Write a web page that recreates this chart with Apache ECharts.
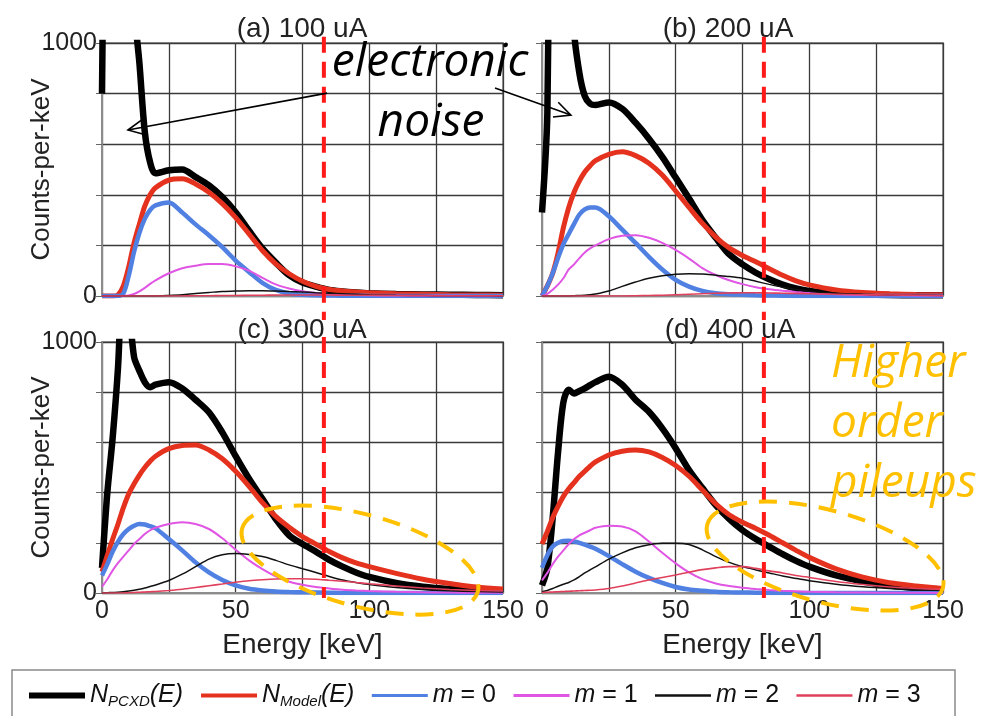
<!DOCTYPE html>
<html>
<head>
<meta charset="utf-8">
<title>PCXD pileup spectra</title>
<script src="https://cdn.jsdelivr.net/npm/echarts@6/dist/echarts.min.js"></script>
<style>
  html, body { margin: 0; padding: 0; background: #fff; }
  #main { width: 981px; height: 716px; }
</style>
</head>
<body>
<div id="main"></div>
<script>
// energy samples (keV) shared by every curve
var energy = [0, 2, 4, 6, 8, 10, 12, 14, 16, 18, 20, 25, 30, 35, 40, 45, 50, 55, 60, 65, 70, 75, 80, 85, 90, 95, 100, 110, 120, 130, 140, 150];

// (a) 100 uA
var pcxdA  = [800, 2600, 3000, 3000, 2600, 1800, 1150, 920, 650, 528, 485, 497, 500, 470, 437, 391, 331, 258, 188, 132, 82, 53, 37, 24, 18, 14, 11, 8, 6, 5, 4, 3];
var modelA = [0, 0, 0, 5, 40, 115, 210, 285, 355, 400, 428, 458, 463, 443, 410, 365, 310, 245, 180, 127, 88, 58, 38, 26, 20, 16, 13, 9, 7, 5, 4, 3];
var m0A    = [0, 0, 0, 0, 10, 80, 175, 250, 305, 340, 358, 370, 330, 283, 240, 193, 140, 95, 52, 24, 10, 5, 3, 2, 1, 1, 0, 0, 0, 0, 0, 0];
var m1A    = [0, 0, 0, 0, 0, 2, 8, 18, 32, 48, 62, 90, 110, 120, 126, 126, 117, 100, 72, 46, 30, 19, 12, 8, 6, 4, 3, 2, 1, 1, 0, 0];
var m2A    = [0, 0, 0, 0, 0, 0, 0, 0, 0, 0, 0, 2, 5, 10, 14, 18, 20, 21, 21, 20, 18, 16, 13, 11, 9, 7, 5, 3, 2, 1, 1, 0];
var m3A    = [0, 0, 0, 0, 0, 0, 0, 0, 0, 0, 0, 0, 0, 1, 1, 2, 2, 3, 3, 4, 4, 4, 4, 4, 3, 3, 3, 2, 2, 1, 1, 1];

// (b) 200 uA
var pcxdB  = [330, 720, 2500, 3000, 3000, 2000, 1050, 880, 790, 760, 755, 765, 740, 685, 622, 550, 468, 385, 300, 230, 165, 125, 92, 66, 45, 30, 20, 10, 6, 4, 3, 3];
var modelB = [0, 40, 90, 170, 270, 350, 410, 455, 490, 515, 535, 560, 570, 555, 525, 478, 415, 350, 287, 233, 190, 160, 135, 108, 82, 60, 44, 24, 14, 9, 6, 5];
var m0B    = [0, 40, 90, 150, 205, 245, 285, 322, 342, 350, 350, 315, 262, 210, 155, 105, 64, 37, 20, 11, 7, 5, 3, 2, 1, 0, 0, 0, 0, 0, 0, 0];
var m1B    = [0, 8, 25, 45, 70, 105, 125, 150, 172, 188, 200, 225, 238, 240, 230, 210, 182, 148, 110, 83, 62, 47, 35, 27, 21, 16, 12, 7, 4, 3, 2, 1];
var m2B    = [0, 0, 0, 0, 0, 0, 1, 2, 3, 5, 8, 20, 38, 55, 70, 80, 86, 88, 87, 82, 77, 70, 58, 46, 35, 26, 19, 11, 7, 4, 3, 2];
var m3B    = [0, 0, 0, 0, 0, 0, 0, 0, 0, 0, 0, 0, 0, 1, 2, 3, 5, 7, 9, 11, 12, 13, 13, 12, 11, 10, 9, 7, 5, 4, 3, 2];

// (c) 300 uA
var pcxdC  = [100, 400, 620, 900, 1300, 1150, 940, 885, 840, 820, 830, 840, 815, 770, 720, 640, 545, 455, 375, 295, 230, 195, 165, 132, 105, 82, 64, 40, 25, 16, 11, 8];
var modelC = [85, 150, 215, 275, 340, 395, 435, 470, 500, 525, 545, 575, 588, 590, 570, 535, 485, 425, 360, 305, 262, 225, 195, 165, 140, 120, 105, 78, 55, 38, 24, 16];
var m0C    = [70, 115, 165, 205, 235, 255, 268, 275, 273, 266, 258, 215, 170, 122, 82, 52, 30, 17, 10, 6, 4, 3, 2, 1, 0, 0, 0, 0, 0, 0, 0, 0];
var m1C    = [25, 55, 90, 120, 145, 170, 195, 215, 235, 250, 260, 275, 282, 275, 255, 218, 172, 130, 95, 66, 45, 33, 24, 18, 13, 10, 8, 5, 3, 2, 1, 1];
var m2C    = [0, 1, 2, 3, 5, 8, 11, 15, 20, 26, 32, 50, 75, 105, 135, 152, 157, 153, 145, 130, 112, 97, 82, 66, 52, 42, 34, 22, 14, 9, 6, 4];
var m3C    = [0, 0, 0, 0, 0, 1, 2, 3, 4, 5, 6, 10, 15, 22, 29, 36, 43, 49, 53, 56, 57, 57, 55, 51, 47, 42, 37, 28, 20, 14, 10, 8];

// (d) 400 uA
var pcxdD  = [30, 100, 300, 560, 760, 810, 795, 805, 815, 828, 840, 862, 830, 770, 722, 656, 577, 490, 418, 350, 295, 250, 215, 185, 155, 128, 105, 70, 46, 30, 20, 14];
var modelD = [195, 245, 300, 345, 385, 415, 440, 465, 485, 505, 522, 550, 565, 570, 562, 540, 508, 465, 410, 355, 312, 282, 257, 230, 200, 170, 142, 96, 63, 41, 28, 18];
var m0D    = [100, 150, 185, 200, 207, 208, 205, 200, 193, 185, 176, 147, 115, 85, 60, 40, 24, 14, 9, 5, 3, 2, 1, 0, 0, 0, 0, 0, 0, 0, 0, 0];
var m1D    = [50, 80, 115, 145, 170, 195, 215, 230, 240, 250, 260, 268, 265, 246, 205, 160, 118, 82, 55, 38, 28, 21, 16, 12, 9, 7, 5, 3, 2, 1, 1, 0];
var m2D    = [5, 10, 18, 27, 35, 42, 52, 65, 80, 92, 104, 135, 160, 180, 192, 198, 198, 193, 172, 145, 122, 105, 92, 80, 68, 58, 49, 35, 25, 18, 13, 10];
var m3D    = [2, 3, 4, 5, 6, 7, 8, 9, 10, 11, 12, 18, 28, 40, 52, 62, 72, 83, 93, 100, 105, 105, 98, 88, 80, 70, 62, 46, 34, 24, 18, 14];

var panelTitles = ['(a) 100 uA', '(b) 200 uA', '(c) 300 uA', '(d) 400 uA'];
var seriesNames = ['N_PCXD(E)', 'N_Model(E)', 'm = 0', 'm = 1', 'm = 2', 'm = 3'];
var xTickLabels = [0, 50, 100, 150];
var yTickLabels = [0, 1000];
var cutoffEnergy = 83;  // red dashed line, keV

var panelData = [
  [pcxdA, modelA, m0A, m1A, m2A, m3A],
  [pcxdB, modelB, m0B, m1B, m2B, m3B],
  [pcxdC, modelC, m0C, m1C, m2C, m3C],
  [pcxdD, modelD, m0D, m1D, m2D, m3D]
];

var colors = ['#000000', '#e5321f', '#4f80e2', '#e055e3', '#111111', '#e0405c'];
var widths = [6.5, 5, 4.5, 2, 1.5, 1.6];
var legendWidths = [6, 4, 3, 3, 2.5, 2.5];
var legendLabels = {
  'N_PCXD(E)': '{i|N}{s|PCXD}{i|(E)}',
  'N_Model(E)': '{i|N}{s|Model}{i|(E)}',
  'm = 0': '{i|m}{u| = 0}',
  'm = 1': '{i|m}{u| = 1}',
  'm = 2': '{i|m}{u| = 2}',
  'm = 3': '{i|m}{u| = 3}'
};

var axisFont = 'Liberation Sans';
var gridBoxes = [
  { left: 102, top: 43, width: 401, height: 253 },
  { left: 542, top: 43, width: 401, height: 253 },
  { left: 102, top: 342, width: 401, height: 251 },
  { left: 542, top: 342, width: 401, height: 251 }
];
var titlePos = [[297, 10], [723, 10], [297, 311], [725, 311]];

var chart = echarts.init(document.getElementById('main'));

var series = [];
panelData.forEach(function (curves, gi) {
  curves.forEach(function (vals, k) {
    series.push({
      name: seriesNames[k],
      type: 'line',
      xAxisIndex: gi,
      yAxisIndex: gi,
      symbol: 'none',
      smooth: 0.3,
      clip: true,
      lineStyle: { color: colors[k], width: widths[k] },
      itemStyle: { color: colors[k] },
      data: energy.map(function (e, j) { return [e, vals[j]]; })
    });
  });
});

var option = {
  animation: false,
  backgroundColor: '#fff',
  title: panelTitles.map(function (t, i) {
    return {
      text: t, left: titlePos[i][0], top: titlePos[i][1], textAlign: 'center',
      textStyle: { fontFamily: axisFont, fontSize: 28, fontWeight: 'normal', color: '#222' }
    };
  }),
  grid: gridBoxes.map(function (g) {
    return {
      left: g.left, top: g.top, width: g.width, height: g.height,
      show: true, borderColor: '#999', borderWidth: 2,
      containLabel: false, outerBoundsMode: 'none'
    };
  }),
  xAxis: gridBoxes.map(function (g, i) {
    return {
      type: 'value', gridIndex: i, min: 0, max: 150, interval: 25,
      axisLine: { show: true, lineStyle: { color: '#8c8c8c', width: 2 } },
      axisTick: { show: false },
      splitLine: { show: true, lineStyle: { color: '#3a3a3a', width: 1.3 } },
      axisLabel: {
        show: i >= 2, margin: 6, fontFamily: axisFont, fontSize: 25, color: '#222',
        formatter: function (v) { return xTickLabels.indexOf(v) >= 0 ? String(v) : ''; }
      },
      name: i >= 2 ? 'Energy [keV]' : '',
      nameLocation: 'middle', nameGap: 38, nameMoveOverlap: false,
      nameTextStyle: { fontFamily: axisFont, fontSize: 28, color: '#222' }
    };
  }),
  yAxis: gridBoxes.map(function (g, i) {
    return {
      type: 'value', gridIndex: i, min: 0, max: 1000, interval: 200,
      axisLine: { show: true, lineStyle: { color: '#8c8c8c', width: 2 } },
      axisTick: { show: true, length: 6, lineStyle: { color: '#666' } },
      splitLine: { show: true, lineStyle: { color: '#3a3a3a', width: 1.3 } },
      axisLabel: {
        show: i % 2 === 0, margin: 5, fontFamily: axisFont, fontSize: 25, color: '#222',
        formatter: function (v) { return yTickLabels.indexOf(v) >= 0 ? String(v) : ''; }
      },
      name: i % 2 === 0 ? 'Counts-per-keV' : '',
      nameLocation: 'middle', nameGap: 47, nameMoveOverlap: false,
      nameTextStyle: { fontFamily: axisFont, fontSize: 26, color: '#222' }
    };
  }),
  legend: {
    left: 21, top: 678, itemWidth: 56, itemHeight: 14, itemGap: 16,
    selectedMode: false,
    itemStyle: { opacity: 0 },
    data: seriesNames.map(function (n, k) {
      return { name: n, lineStyle: { width: legendWidths[k], color: colors[k] } };
    }),
    formatter: function (name) { return legendLabels[name]; },
    textStyle: {
      fontFamily: axisFont, fontSize: 25, color: '#111',
      rich: {
        i: { fontFamily: axisFont, fontSize: 25, fontStyle: 'italic', color: '#111', lineHeight: 28 },
        s: { fontFamily: axisFont, fontSize: 15, fontStyle: 'italic', color: '#111', lineHeight: 12, verticalAlign: 'bottom' },
        u: { fontFamily: axisFont, fontSize: 25, color: '#111', lineHeight: 28 }
      }
    }
  },
  series: series
};

chart.setOption(option);

// ---- annotations placed through the axes ----
function px(gi, e, v) {
  return chart.convertToPixel({ xAxisIndex: gi, yAxisIndex: gi }, [e, v]);
}

function arrow(from, tip) {
  var dx = tip[0] - from[0], dy = tip[1] - from[1];
  var len = Math.sqrt(dx * dx + dy * dy);
  var ux = dx / len, uy = dy / len;
  var L = 18, a = 0.45;
  function side(s) {
    var c = Math.cos(s * a), sn = Math.sin(s * a);
    var rx = ux * c - uy * sn, ry = ux * sn + uy * c;
    return [tip[0] - L * rx, tip[1] - L * ry];
  }
  return [
    { type: 'line', z: 100, shape: { x1: from[0], y1: from[1], x2: tip[0], y2: tip[1] },
      style: { stroke: '#000', lineWidth: 1.6 } },
    { type: 'polyline', z: 100, shape: { points: [side(1), tip, side(-1)] },
      style: { stroke: '#000', lineWidth: 1.6, fill: null } }
  ];
}

var graphics = [];

// red dashed cut-off line in every panel
[[1025, -95], [1025, -95], [1020, -20], [1020, -20]].forEach(function (ext, gi) {
  var p0 = px(gi, cutoffEnergy, ext[0]);
  var p1 = px(gi, cutoffEnergy, ext[1]);
  graphics.push({
    type: 'line', z: 90,
    shape: { x1: p0[0], y1: p0[1], x2: p1[0], y2: p1[1] },
    style: { stroke: '#ff1a1a', lineWidth: 4, lineDash: [16, 9] }
  });
});

// orange dashed ellipses around the higher order pileups
[[2, 96.5, 131], [3, 105.9, 147]].forEach(function (c) {
  var p = px(c[0], c[1], c[2]);
  graphics.push({
    type: 'ellipse', z: 95, x: p[0], y: p[1], rotation: -15 * Math.PI / 180,
    shape: { cx: 0, cy: 0, rx: 122, ry: 46 },
    style: { fill: null, stroke: '#ffc000', lineWidth: 4, lineDash: [18, 12] }
  });
});

// electronic noise arrows
graphics = graphics.concat(arrow(px(0, 84.2, 802), px(0, 9.7, 656)));
graphics = graphics.concat(arrow(px(0, 147, 822), px(1, 10.8, 715)));

// texts
var noiseFont = 'italic 46px "Open Sans"';
graphics.push({ type: 'text', z: 110, x: 430, y: 63,
  style: { text: 'electronic', font: noiseFont, fill: '#000', align: 'center', verticalAlign: 'middle' } });
graphics.push({ type: 'text', z: 110, x: 431, y: 123,
  style: { text: 'noise', font: noiseFont, fill: '#000', align: 'center', verticalAlign: 'middle' } });
['Higher', 'order', 'pileups'].forEach(function (t, k) {
  graphics.push({ type: 'text', z: 110, x: 831, y: 364 + k * 60,
    style: { text: t, font: noiseFont, fill: '#ffc000', align: 'left', verticalAlign: 'middle' } });
});

// legend frame
graphics.push({ type: 'rect', z: 1, shape: { x: 12, y: 670, width: 943, height: 60 },
  style: { fill: null, stroke: '#8a8a8a', lineWidth: 1.5 } });

chart.setOption({ graphic: graphics });
</script>
</body>
</html>
